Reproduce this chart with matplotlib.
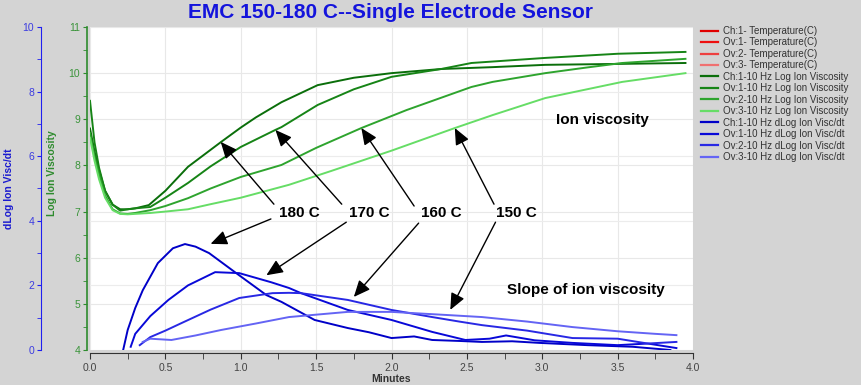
import numpy as np
import matplotlib.pyplot as plt
from matplotlib.lines import Line2D
from matplotlib.ticker import MultipleLocator, FormatStrFormatter
from matplotlib.transforms import blended_transform_factory

plt.rcParams['font.family'] = ['Liberation Sans', 'DejaVu Sans']

#------------------data------------------

temps = ["180 C", "170 C", "160 C", "150 C"]

# Log ion viscosity (green axis)
g180_x = [0, 0.03, 0.06, 0.1, 0.15, 0.2, 0.25, 0.3, 0.39, 0.5, 0.65, 0.87, 1.0, 1.1, 1.27, 1.51, 1.75, 2.0, 2.33, 2.67, 3.02, 3.5, 3.95]
g180_y = [8.8, 8.3, 7.9, 7.45, 7.15, 7.05, 7.05, 7.07, 7.14, 7.45, 7.97, 8.51, 8.82, 9.04, 9.37, 9.74, 9.9, 10.0, 10.09, 10.13, 10.18, 10.2, 10.22]

g170_x = [0, 0.03, 0.06, 0.1, 0.15, 0.2, 0.25, 0.3, 0.4, 0.5, 0.65, 0.8, 1.0, 1.23, 1.27, 1.51, 1.75, 2.0, 2.33, 2.53, 3.02, 3.5, 3.95]
g170_y = [9.4, 8.5, 7.95, 7.45, 7.15, 7.02, 7.05, 7.07, 7.1, 7.3, 7.62, 7.98, 8.4, 8.77, 8.83, 9.31, 9.65, 9.92, 10.09, 10.22, 10.33, 10.42, 10.46]

g160_x = [0, 0.03, 0.06, 0.1, 0.15, 0.2, 0.25, 0.3, 0.4, 0.5, 0.65, 0.8, 1.0, 1.27, 1.5, 1.8, 2.1, 2.53, 2.67, 3.02, 3.29, 3.53, 3.95]
g160_y = [8.7, 8.2, 7.8, 7.35, 7.05, 6.96, 6.95, 6.97, 7.03, 7.12, 7.29, 7.5, 7.75, 8.01, 8.38, 8.81, 9.2, 9.70, 9.81, 10.0, 10.12, 10.22, 10.31]

g150_x = [0, 0.03, 0.06, 0.1, 0.15, 0.2, 0.25, 0.3, 0.4, 0.5, 0.65, 0.8, 1.0, 1.32, 1.6, 2.0, 2.42, 2.67, 3.02, 3.53, 3.95]
g150_y = [8.6, 8.1, 7.7, 7.3, 7.03, 6.95, 6.94, 6.95, 6.97, 7.0, 7.05, 7.16, 7.3, 7.58, 7.88, 8.32, 8.81, 9.09, 9.46, 9.81, 10.0]

# dLog ion visc/dt (blue axis)
b180_x = [0.22, 0.25, 0.3, 0.35, 0.45, 0.55, 0.63, 0.7, 0.79, 0.97, 1.17, 1.27, 1.49, 1.71, 1.85, 2.0, 2.15, 2.27, 2.45, 2.6, 2.8, 2.98, 3.3, 3.6, 3.85]
b180_y = [0, 0.62, 1.3, 1.85, 2.69, 3.15, 3.28, 3.2, 3.0, 2.38, 1.70, 1.49, 0.93, 0.68, 0.55, 0.37, 0.42, 0.31, 0.28, 0.25, 0.27, 0.22, 0.15, 0.1, 0.0]

b170_x = [0.27, 0.3, 0.4, 0.52, 0.65, 0.83, 0.99, 1.2, 1.32, 1.4, 1.71, 2.0, 2.27, 2.49, 2.65, 2.76, 2.95, 3.2, 3.5, 3.7, 3.89]
b170_y = [0.1, 0.5, 1.05, 1.55, 2.0, 2.41, 2.38, 2.1, 1.92, 1.76, 1.24, 0.93, 0.56, 0.31, 0.35, 0.45, 0.3, 0.22, 0.15, 0.2, 0.06]

b160_x = [0.33, 0.4, 0.5, 0.61, 0.8, 0.99, 1.21, 1.32, 1.4, 1.71, 2.0, 2.27, 2.45, 2.6, 2.9, 3.2, 3.5, 3.7, 3.89]
b160_y = [0.15, 0.4, 0.6, 0.84, 1.25, 1.61, 1.76, 1.77, 1.76, 1.55, 1.24, 1.02, 0.88, 0.77, 0.6, 0.37, 0.35, 0.2, 0.25]

b150_x = [0.35, 0.4, 0.54, 0.7, 0.87, 1.1, 1.32, 1.71, 2.0, 2.38, 2.6, 2.9, 3.2, 3.5, 3.75, 3.89]
b150_y = [0.25, 0.35, 0.31, 0.45, 0.62, 0.82, 1.02, 1.18, 1.18, 1.08, 1.02, 0.88, 0.71, 0.58, 0.5, 0.46]

legend_labels = ["Ch:1- Temperature(C)", "Ov:1- Temperature(C)", "Ov:2- Temperature(C)", "Ov:3- Temperature(C)",
                 "Ch:1-10 Hz Log Ion Viscosity", "Ov:1-10 Hz Log Ion Viscosity", "Ov:2-10 Hz Log Ion Viscosity", "Ov:3-10 Hz Log Ion Viscosity",
                 "Ch:1-10 Hz dLog Ion Visc/dt", "Ov:1-10 Hz dLog Ion Visc/dt", "Ov:2-10 Hz dLog Ion Visc/dt", "Ov:3-10 Hz dLog Ion Visc/dt"]

red_cols = ['#e00000', '#ee1010', '#ee4040', '#f07070']
green_cols = ['#0a6e0a', '#168416', '#2ea42e', '#66dd66']
blue_cols = ['#0000c8', '#0808d8', '#2828e4', '#6464f4']

# arrow tips / tails in (x, log ion viscosity) coords
arrow_green_tip = [(0.867, 8.51), (1.23, 8.77), (1.80, 8.81), (2.42, 8.81)]
arrow_green_tail = [(1.22, 7.16), (1.67, 7.16), (2.15, 7.12), (2.68, 7.16)]
arrow_blue_tip = [(0.80, 6.30), (1.17, 5.62), (1.75, 5.15), (2.39, 4.87)]
arrow_blue_tail = [(1.20, 6.84), (1.70, 6.77), (2.18, 6.75), (2.69, 6.77)]
label_pos = [(1.39, 6.97), (1.85, 6.97), (2.33, 6.97), (2.83, 6.97)]

#------------------figure------------------

W, H = 861, 385
PX = 0.72  # points per pixel at dpi 100
fig = plt.figure(figsize=(W / 100, H / 100), dpi=100, facecolor='#d4d4d4')
ax = fig.add_axes([90 / W, 1 - 350 / H, (693 - 90) / W, (350 - 27) / H])
ax.set_facecolor('white')

green_tx = '#3a943a'
blue_tx = '#3c3ce0'

for xs, ys, c in zip([g180_x, g170_x, g160_x, g150_x], [g180_y, g170_y, g160_y, g150_y], green_cols):
    ax.plot(xs, ys, color=c, lw=1.4, zorder=3)

ax.set_xlim(0, 4)
ax.set_ylim(4, 11)
ax.xaxis.set_major_locator(MultipleLocator(0.5))
ax.xaxis.set_minor_locator(MultipleLocator(0.25))
ax.xaxis.set_major_formatter(FormatStrFormatter('%.1f'))
ax.yaxis.set_major_locator(MultipleLocator(1))
ax.yaxis.set_minor_locator(MultipleLocator(0.5))
ax.grid(True, which='major', color='#e8e8e8', lw=0.8, zorder=0)
ax.set_axisbelow(True)

for s in ['top', 'right']:
    ax.spines[s].set_visible(False)
ax.spines['left'].set_position(('outward', 3 * PX))
ax.spines['left'].set_color('#2e8b2e')
ax.spines['left'].set_linewidth(1.2)
ax.spines['bottom'].set_position(('outward', 3 * PX))
ax.spines['bottom'].set_color('#333333')
ax.tick_params(axis='y', which='both', colors='#2e8b2e', labelcolor=green_tx, labelsize=7.5, length=3, pad=2)
ax.tick_params(axis='x', which='both', colors='#333333', labelcolor='#444444', labelsize=7.5, length=4, pad=3)
ax.set_xlabel("Minutes", fontsize=7.5, fontweight='bold', color='#333333', labelpad=1)
ax.set_ylabel("Log Ion Viscosity", fontsize=7.5, fontweight='bold', color='#2e8b2e')
ax.yaxis.set_label_coords((57 - 90) / 603, 0.548)

ax2 = ax.twinx()
for xs, ys, c in zip([b180_x, b170_x, b160_x, b150_x], [b180_y, b170_y, b160_y, b150_y], blue_cols):
    ax2.plot(xs, ys, color=c, lw=1.4, zorder=3)
ax2.set_ylim(0, 10)
ax2.yaxis.set_major_locator(MultipleLocator(2))
ax2.yaxis.set_minor_locator(MultipleLocator(1))
ax2.yaxis.set_ticks_position('left')
ax2.yaxis.set_label_position('left')
for s in ['top', 'right', 'bottom']:
    ax2.spines[s].set_visible(False)
ax2.spines['left'].set_visible(True)
ax2.spines['left'].set_position(('outward', 49 * PX))
ax2.spines['left'].set_color('#2020f0')
ax2.tick_params(axis='y', which='both', colors='#2020f0', labelcolor=blue_tx, labelsize=7.5, length=3, pad=2)
ax2.set_ylabel("dLog Ion Visc/dt", fontsize=7.5, fontweight='bold', color='#1a1ad0')
ax2.yaxis.set_label_coords((14 - 90) / 603, 0.50)

# blue-axis grid lines, drawn in the lower axes so they stay behind the curves
blend = blended_transform_factory(ax.transAxes, ax2.transData)
for v in ax2.get_yticks():
    if 0 < v < 10:
        ax.plot([0, 1], [v, v], transform=blend, color='#ececec', lw=0.8, zorder=0.6)

# annotations (drawn on the top axes, in green-axis data coords)
astyle = dict(arrowstyle='-|>,head_length=0.5,head_width=0.22', color='black', lw=1.0,
              mutation_scale=20, shrinkA=0, shrinkB=0)
for t, lp, gt, gtl, bt, btl in zip(temps, label_pos, arrow_green_tip, arrow_green_tail, arrow_blue_tip, arrow_blue_tail):
    ax2.annotate("", xy=gt, xytext=gtl, xycoords=ax.transData, textcoords=ax.transData,
                 arrowprops=astyle, zorder=6, annotation_clip=False)
    ax2.annotate("", xy=bt, xytext=btl, xycoords=ax.transData, textcoords=ax.transData,
                 arrowprops=astyle, zorder=6, annotation_clip=False)
    ax2.text(lp[0], lp[1], t, transform=ax.transData, ha='center', va='center',
             fontsize=11, fontweight='bold', color='black', zorder=7)

ax2.text(3.4, 8.98, "Ion viscosity", transform=ax.transData, ha='center', va='center',
         fontsize=11, fontweight='bold', zorder=7)
ax2.text(3.29, 5.30, "Slope of ion viscosity", transform=ax.transData, ha='center', va='center',
         fontsize=11, fontweight='bold', zorder=7)

fig.text(391 / W, 1 - 13 / H, "EMC 150-180 C--Single Electrode Sensor", ha='center', va='center',
         fontsize=15, fontweight='bold', color='#1414dc')

handles = [Line2D([0], [0], color=c, lw=1.6) for c in red_cols + green_cols + blue_cols]
fig.legend(handles, legend_labels, loc='upper left', bbox_to_anchor=(701 / W, 1 - 26 / H),
           frameon=False, fontsize=7, handlelength=1.7, handletextpad=0.6, labelspacing=0.15,
           borderpad=0, borderaxespad=0, labelcolor='#333333')

fig.savefig("out.png", dpi=100, facecolor=fig.get_facecolor())
